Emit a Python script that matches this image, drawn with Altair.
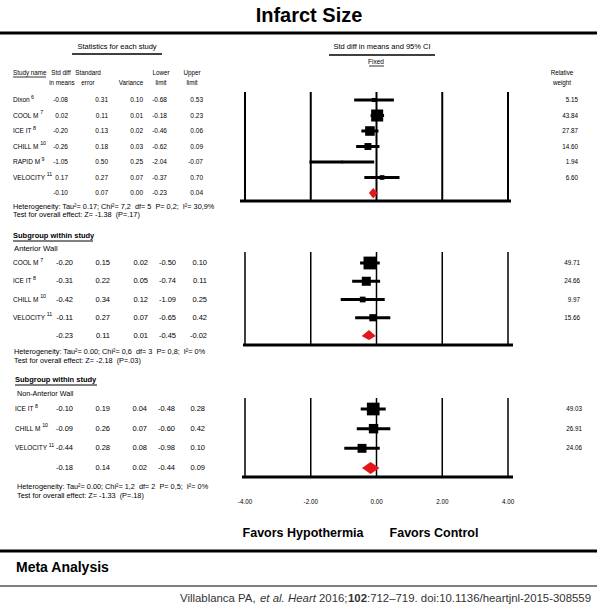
import altair as alt
import pandas as pd

# ---------------- data ----------------
s1_names = ["Dixon", "COOL M", "ICE IT", "CHILL M", "RAPID M", "VELOCITY"]
s1_refs = ["6", "7", "8", "10", "9", "11"]
s1_smd = [-0.08, 0.02, -0.20, -0.26, -1.05, 0.17]
s1_se = [0.31, 0.11, 0.13, 0.18, 0.50, 0.27]
s1_var = [0.10, 0.01, 0.02, 0.03, 0.25, 0.07]
s1_lo = [-0.68, -0.18, -0.46, -0.62, -2.04, -0.37]
s1_hi = [0.53, 0.23, 0.06, 0.09, -0.07, 0.70]
s1_w = [5.15, 43.84, 27.87, 14.60, 1.94, 6.60]
s1_sum = [-0.10, 0.07, 0.00, -0.23, 0.04]

s2_names = ["COOL M", "ICE IT", "CHILL M", "VELOCITY"]
s2_refs = ["7", "8", "10", "11"]
s2_smd = [-0.20, -0.31, -0.42, -0.11]
s2_se = [0.15, 0.22, 0.34, 0.27]
s2_var = [0.02, 0.05, 0.12, 0.07]
s2_lo = [-0.50, -0.74, -1.09, -0.65]
s2_hi = [0.10, 0.11, 0.25, 0.42]
s2_w = [49.71, 24.66, 9.97, 15.66]
s2_sum = [-0.23, 0.11, 0.01, -0.45, -0.02]

s3_names = ["ICE IT", "CHILL M", "VELOCITY"]
s3_refs = ["8", "10", "11"]
s3_smd = [-0.10, -0.09, -0.44]
s3_se = [0.19, 0.26, 0.28]
s3_var = [0.04, 0.07, 0.08]
s3_lo = [-0.48, -0.60, -0.98]
s3_hi = [0.28, 0.42, 0.10]
s3_w = [49.03, 26.91, 24.06]
s3_sum = [-0.18, 0.14, 0.02, -0.44, 0.09]

het_lines = [
    ["Heterogeneity: Tau\u00b2= 0.17; Chi\u00b2= 7,2\u00a0 df= 5\u00a0 P= 0,2;\u00a0 I\u00b2= 30,9%",
     "Test for overall effect: Z= -1.38\u00a0 (P=.17)"],
    ["Heterogeneity: Tau\u00b2= 0.00; Chi\u00b2= 0,6\u00a0 df= 3\u00a0 P= 0,8;\u00a0 I\u00b2= 0%",
     "Test for overall effect: Z= -2.18\u00a0 (P=.03)"],
    ["Heterogeneity: Tau\u00b2= 0.00; Chi\u00b2= 1,2\u00a0 df= 2\u00a0 P= 0,5;\u00a0 I\u00b2= 0%",
     "Test for overall effect: Z= -1.33\u00a0 (P=.18)"],
]
ticks = [-4, -2, 0, 2, 4]

# ---------------- tables ----------------
# Arial/Liberation Sans advance widths (em/1000) for measuring study names
GLYPH_W = {"D": 722, "i": 222, "x": 500, "o": 556, "n": 556, "C": 722, "O": 778,
           "L": 556, "M": 833, "I": 278, "E": 667, "T": 611, "H": 722, "R": 722,
           "A": 667, "P": 667, "V": 667, "Y": 667, " ": 278}


def em_width(s):
    return sum(GLYPH_W.get(c, 556) for c in s) / 1000.0


def f2(v):
    return f"{v:.2f}"


sections = [
    (1, 0, s1_names, s1_refs, s1_smd, s1_se, s1_var, s1_lo, s1_hi, s1_w, s1_sum),
    (2, 10, s2_names, s2_refs, s2_smd, s2_se, s2_var, s2_lo, s2_hi, s2_w, s2_sum),
    (3, 20, s3_names, s3_refs, s3_smd, s3_se, s3_var, s3_lo, s3_hi, s3_w, s3_sum),
]

study_rows, sum_rows, diam_rows = [], [], []
for sec, start, nm, rf, smd, se, var, lo, hi, w, sm in sections:
    for i in range(len(nm)):
        study_rows.append(dict(sec=sec, row=start + i, label=nm[i], ref=rf[i],
                               nw=em_width(nm[i]),
                               smd=smd[i], lo=lo[i], hi=hi[i], w=w[i],
                               smd_s=f2(smd[i]), se_s=f2(se[i]), var_s=f2(var[i]),
                               lo_s=f2(lo[i]), hi_s=f2(hi[i]), w_s=f2(w[i])))
    r = start + len(nm)
    sum_rows.append(dict(sec=sec, row=r, label="", ref="", nw=0.0,
                         smd=sm[0], lo=sm[3], hi=sm[4], w=0,
                         smd_s=f2(sm[0]), se_s=f2(sm[1]), var_s=f2(sm[2]),
                         lo_s=f2(sm[3]), hi_s=f2(sm[4]), w_s=""))
    for xv, k in [(sm[3], 0), (sm[0], 1), (sm[4], 0)]:
        diam_rows.append(dict(sec=sec, row=r, x=xv, k=k))

studies = pd.DataFrame(study_rows)
table = pd.DataFrame(study_rows + sum_rows)
diam = pd.DataFrame(diam_rows)
tick_df = pd.DataFrame({"t": ticks, "t_s": [f2(t) for t in ticks]})
one = pd.DataFrame({"k": [0]})

# ---------------- styling / layout ----------------
FA = "'Liberation Sans', Arial, sans-serif"
XS = alt.Scale(domain=[-4, 4], range=[245, 508], zero=False, nice=False)
YS = alt.Scale(domain=[0, 6, 10, 14, 20, 23], range=[100, 193, 263, 336, 409, 468],
               zero=False, nice=False)


def label(text, x, y, size=8, font=FA, weight="normal", align="left",
          color="black", style="normal"):
    return alt.Chart(one).mark_text(
        text=text, align=align, baseline="middle", font=font, fontSize=size,
        fontWeight=weight, fontStyle=style, color=color
    ).encode(x=alt.value(x), y=alt.value(y))


def hline(x1, x2, y, w=1.0):
    return alt.Chart(one).mark_rule(color="black", strokeWidth=w).encode(
        x=alt.value(x1), x2=alt.value(x2), y=alt.value(y))


layers = []

# header
HS = 6.3
layers += [
    label("Infarct Size", 309, 16, size=20, weight="bold", align="center"),
    hline(0, 597, 33, 3),
    label("Statistics for each study", 117, 47, size=7.5, align="center"),
    hline(72, 162, 54, 1.5),
    label("Std diff in means and 95% CI", 382, 47, size=7.5, align="center"),
    hline(329, 435, 55, 1.5),
    label("Fixed", 376, 62, size=6.5, align="center"),
    hline(369, 384, 66, 0.8),
    label("Study name", 13, 73, size=HS), hline(13, 46, 77, 0.8),
    label("Std diff", 61, 73, size=HS, align="center"),
    label("in means", 62, 83, size=HS, align="center"),
    label("Standard", 88, 73, size=HS, align="center"),
    label("error", 88, 83, size=HS, align="center"),
    label("Variance", 131, 83, size=HS, align="center"),
    label("Lower", 161, 73, size=HS, align="center"),
    label("limit", 161, 83, size=HS, align="center"),
    label("Upper", 192, 73, size=HS, align="center"),
    label("limit", 192, 83, size=HS, align="center"),
    label("Relative", 562, 73, size=HS, align="center"),
    label("weight", 562, 83, size=HS, align="center"),
]

# subgroup headers
layers += [
    label("Subgroup within study", 13, 236, size=7.5, weight="bold"),
    hline(13, 93, 241, 1),
    label("Anterior Wall", 14, 249, size=7.7),
    label("Subgroup within study", 15, 380, size=7.5, weight="bold"),
    hline(15, 97, 385, 1),
    label("Non-Anterior Wall", 17, 394, size=7.2),
]

# per-section layout: (label x, name size, number size, column right edges, weight x,
#                      grid top, grid bottom, grid width, base x1, base x2,
#                      het x, het y1, het y2)
sec_layout = {
    1: (13, 6.5, 6.5, [68, 108, 143, 167, 203], 578, 92, 201, 2.0, 240, 511, 13, 207, 215),
    2: (13, 6.5, 7.5, [73, 110, 148, 176, 207], 580, 252, 345, 1.5, 243, 513, 14, 352, 361),
    3: (15, 6.5, 7.5, [73, 110, 147, 175, 205], 582, 398, 477, 1.5, 242, 513, 17, 487, 496),
}
cols = ["smd_s", "se_s", "var_s", "lo_s", "hi_s"]

for sec, (lx, ns, fs, cx, wx, gt, gb, gw, bx1, bx2, hx, hy1, hy2) in sec_layout.items():
    flt = alt.datum.sec == sec
    # study labels
    layers.append(
        alt.Chart(studies).transform_filter(flt).mark_text(
            align="left", baseline="middle", font=FA, fontSize=ns, color="black"
        ).encode(x=alt.value(lx), y=alt.Y("row:Q", scale=YS, axis=None), text="label:N"))
    # reference superscripts, placed just after each measured name
    layers.append(
        alt.Chart(studies).transform_filter(flt).transform_calculate(
            supx=f"{lx} + datum.nw * {ns} + 1.5"
        ).mark_text(
            align="left", baseline="middle", font=FA, fontSize=5.3, color="black", dy=-3.5
        ).encode(x=alt.X("supx:Q", scale=None, axis=None),
                 y=alt.Y("row:Q", scale=YS, axis=None), text="ref:N"))
    for c, x in zip(cols, cx):
        layers.append(
            alt.Chart(table).transform_filter(flt).mark_text(
                align="right", baseline="middle", font=FA, fontSize=fs, color="black"
            ).encode(x=alt.value(x), y=alt.Y("row:Q", scale=YS, axis=None), text=f"{c}:N"))
    layers.append(
        alt.Chart(studies).transform_filter(flt).mark_text(
            align="right", baseline="middle", font=FA, fontSize=6.3, color="black"
        ).encode(x=alt.value(wx), y=alt.Y("row:Q", scale=YS, axis=None), text="w_s:N"))
    # heterogeneity
    layers.append(label(het_lines[sec - 1][0], hx, hy1, size=7.3))
    layers.append(label(het_lines[sec - 1][1], hx, hy2, size=7.3))
    # grid lines
    layers.append(
        alt.Chart(tick_df).mark_rule(color="black", strokeWidth=gw).encode(
            x=alt.X("t:Q", scale=XS, axis=None), y=alt.value(gt), y2=alt.value(gb)))
    # CI lines
    layers.append(
        alt.Chart(studies).transform_filter(flt).mark_rule(color="black", strokeWidth=3).encode(
            x=alt.X("lo:Q", scale=XS, axis=None), x2="hi:Q",
            y=alt.Y("row:Q", scale=YS, axis=None)))
    # squares
    layers.append(
        alt.Chart(studies).transform_filter(flt).mark_square(
            filled=True, color="black", opacity=1).encode(
            x=alt.X("smd:Q", scale=XS, axis=None),
            y=alt.Y("row:Q", scale=YS, axis=None),
            size=alt.Size("w:Q", scale=alt.Scale(domain=[0, 50], range=[0, 165]), legend=None)))
    # bottom base line
    layers.append(hline(bx1, bx2, gb, 3))

# diamonds (summary effects)
layers.append(
    alt.Chart(diam).transform_calculate(
        h="datum.sec == 1 ? 0.32 : (datum.sec == 2 ? 0.33 : 0.3)",
    ).transform_calculate(
        ya="datum.row - datum.k * datum.h",
        yb="datum.row + datum.k * datum.h",
    ).mark_area(color="#e3161b", opacity=1, orient="vertical").encode(
        x=alt.X("x:Q", scale=XS, axis=None),
        y=alt.Y("ya:Q", scale=YS, axis=None),
        y2="yb:Q",
        detail="sec:N"))

# axis tick labels
layers.append(
    alt.Chart(tick_df).mark_text(font=FA, fontSize=6.3, baseline="middle", align="center",
                                 color="black").encode(
        x=alt.X("t:Q", scale=XS, axis=None), y=alt.value(502), text="t_s:N"))

# footer
CC = "#333333"
CS = 11.4
layers += [
    label("Favors Hypothermia", 303, 533, size=12.5, weight="bold", align="center"),
    label("Favors Control", 434, 533, size=12.5, weight="bold", align="center"),
    hline(0, 597, 551, 3),
    label("Meta Analysis", 16, 568, size=14, weight="bold"),
    hline(0, 597, 586, 1.2),
    label("Villablanca PA, ", 180, 599, size=CS, color=CC),
    label("et al.", 260, 599, size=CS, color=CC, style="italic"),
    label("Heart", 288, 599, size=CS, color=CC, style="italic"),
    label("2016;", 319, 599, size=CS, color=CC),
    label("102", 348, 599, size=CS, color=CC, weight="bold"),
    label(":712\u2013719. doi:10.1136/heartjnl-2015-308559", 367, 599, size=CS, color=CC),
]

chart = alt.layer(*layers).properties(
    width=600, height=609, autosize=alt.AutoSizeParams(type="none"), padding=0,
    background="white"
).configure_view(stroke=None)

chart.save("out.html", embed_options={"renderer": "svg", "actions": False})
